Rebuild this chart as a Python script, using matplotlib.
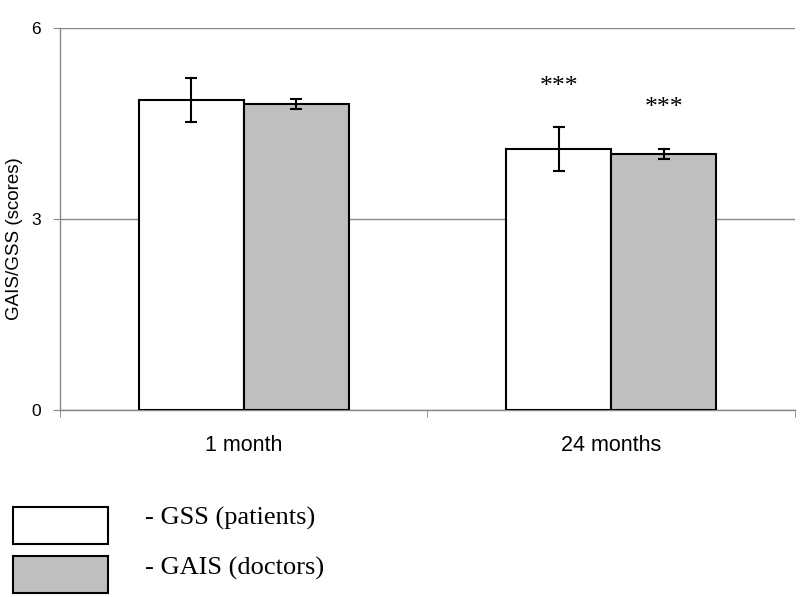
import matplotlib.pyplot as plt
from matplotlib.patches import Rectangle
import numpy as np

# data
categories = ['1 month', '24 months']
series_names = ['- GSS (patients)', '- GAIS (doctors)']
gss_means = [4.87, 4.10]
gss_err = [0.345, 0.34]
gais_means = [4.80, 4.02]
gais_err = [0.08, 0.08]
stars = ['', '***']
yticks = [0, 3, 6]

colors = ['white', '#bfbfbf']
grid_col = '#888888'

fig = plt.figure(figsize=(8, 5.97), dpi=100)
ax = fig.add_axes([0.075, 0.3132, 0.91875, 0.64])

x = np.arange(len(categories))
w = 0.286
for i, (m, e) in enumerate([(gss_means, gss_err), (gais_means, gais_err)]):
    pos = x + (i - 0.5) * w
    ax.bar(pos, m, width=w, color=colors[i], edgecolor='black', linewidth=1.5, zorder=3)
    ax.errorbar(pos, m, yerr=e, fmt='none', ecolor='black', elinewidth=1.5,
                capsize=4.5, capthick=1.5, zorder=4)
    for p, mm, ee, s in zip(pos, m, e, stars):
        if s:
            ax.text(p, mm + ee + 0.64, s, ha='center', va='center', fontsize=18.5,
                    family='Liberation Serif')

ax.set_xlim(-0.5, 1.5)
ax.set_ylim(0, 6)
ax.set_yticks(yticks)
ax.set_yticklabels([str(t) for t in yticks], fontsize=12.5, family='Liberation Sans')
ax.set_xticks(x)
ax.set_xticklabels(categories, fontsize=15.5, family='Liberation Sans')
ax.set_xticks([-0.5, 0.5, 1.5], minor=True)
ax.tick_params(axis='x', which='major', length=0, pad=18)
ax.tick_params(axis='x', which='minor', length=5, color=grid_col, direction='out')
ax.tick_params(axis='y', length=5, color=grid_col, pad=9)
ax.yaxis.grid(True, color=grid_col, linewidth=1, zorder=0)
ax.set_axisbelow(True)
for s in ['top', 'right']:
    ax.spines[s].set_visible(False)
for s in ['left', 'bottom']:
    ax.spines[s].set_color(grid_col)
    ax.spines[s].set_linewidth(1)
ax.set_ylabel('GAIS/GSS (scores)', fontsize=13.5, family='Liberation Sans', va='center')
ax.yaxis.set_label_coords(-0.0625, 0.449)

# legend drawn below the axes
box_y = [0.0883, 0.0062]
text_y = [0.1323, 0.0486]
for c, name, by, ty in zip(colors, series_names, box_y, text_y):
    fig.patches.append(Rectangle((0.016, by), 0.119, 0.063, transform=fig.transFigure,
                                 facecolor=c, edgecolor='black', linewidth=1.5))
    fig.text(0.181, ty, name, ha='left', va='center', fontsize=19,
             family='Liberation Serif')

fig.savefig('out.png', dpi=100)
